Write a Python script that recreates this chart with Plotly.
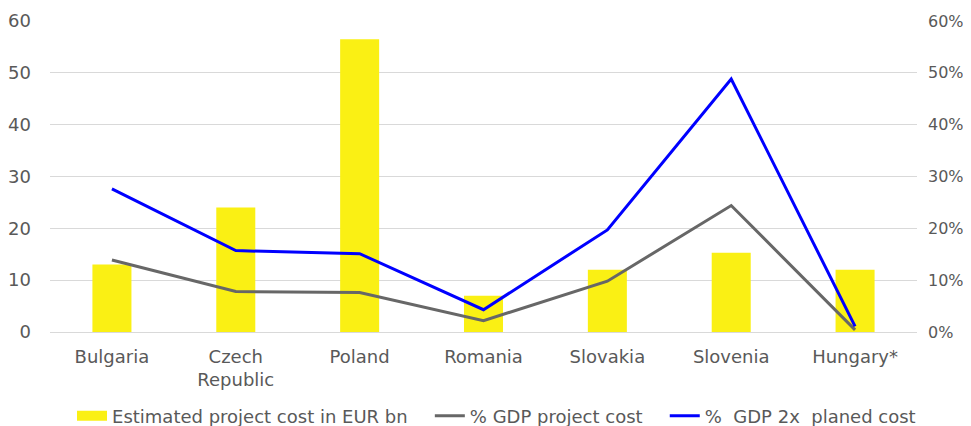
import plotly.graph_objects as go

countries = ["Bulgaria", "Czech<br>Republic", "Poland", "Romania", "Slovakia", "Slovenia", "Hungary*"]
project_cost_eur_bn = [13.0, 24.0, 56.5, 7.0, 12.0, 15.3, 12.0]
gdp_project_cost = [0.139, 0.078, 0.076, 0.022, 0.098, 0.244, 0.004]
gdp_2x_planned_cost = [0.276, 0.157, 0.151, 0.043, 0.197, 0.488, 0.011]

left_ticks = [0, 10, 20, 30, 40, 50, 60]
right_ticks = [0, 0.1, 0.2, 0.3, 0.4, 0.5, 0.6]

FONT = "'DejaVu Sans', sans-serif"
TEXT = "#595959"
GRID = "#d9d9d9"
YELLOW = "#faf014"
PAD = "\u00a0" * 3  # extra room between legend entries

fig = go.Figure()
fig.add_trace(go.Bar(
    x=countries, y=project_cost_eur_bn,
    name="Estimated project cost in EUR bn",
    marker=dict(color=YELLOW, line=dict(width=0)),
    showlegend=False,
    yaxis="y",
))
# legend-only entry so the key looks like a wide block, as in the original
fig.add_trace(go.Scatter(
    x=[None], y=[None], mode="lines",
    name="Estimated project cost in EUR bn" + PAD,
    line=dict(color=YELLOW, width=11),
    yaxis="y",
))
fig.add_trace(go.Scatter(
    x=countries, y=gdp_project_cost,
    name="% GDP project cost" + PAD,
    mode="lines", line=dict(color="#676767", width=3),
    yaxis="y2",
))
fig.add_trace(go.Scatter(
    x=countries, y=gdp_2x_planned_cost,
    name="%\u00a0 GDP 2x\u00a0 planed cost",
    mode="lines", line=dict(color="#0000ff", width=3),
    yaxis="y2",
))

# page body has an 8px margin, so the figure is sized to fit what is left
fig.update_layout(
    width=963, height=418,
    paper_bgcolor="white", plot_bgcolor="white",
    font=dict(family=FONT, color=TEXT, size=18),
    margin=dict(l=42, r=54, t=13, b=94, autoexpand=False),
    bargap=0.685,
    showlegend=True,
    legend=dict(
        orientation="h", x=0.515, xanchor="center",
        yref="container", y=0.068, yanchor="top",
        font=dict(size=18, color=TEXT), tracegroupgap=0,
        bgcolor="rgba(0,0,0,0)",
    ),
    xaxis=dict(
        showgrid=False, zeroline=False, showline=False,
        tickfont=dict(size=18, color=TEXT), ticks="",
        ticklabelstandoff=12,
    ),
    yaxis=dict(
        range=[0, 60], tickvals=left_ticks, showgrid=True, gridcolor=GRID,
        gridwidth=1, zeroline=True, zerolinecolor=GRID, zerolinewidth=1,
        showline=False, tickfont=dict(size=18, color=TEXT), ticks="",
        ticklabelstandoff=18,
    ),
    yaxis2=dict(
        range=[0, 0.6], tickvals=right_ticks, tickformat=".0%",
        overlaying="y", side="right", showgrid=False, zeroline=False,
        showline=False, tickfont=dict(size=16, color=TEXT), ticks="",
        ticklabelstandoff=10,
    ),
)

fig.write_html("out.html")
